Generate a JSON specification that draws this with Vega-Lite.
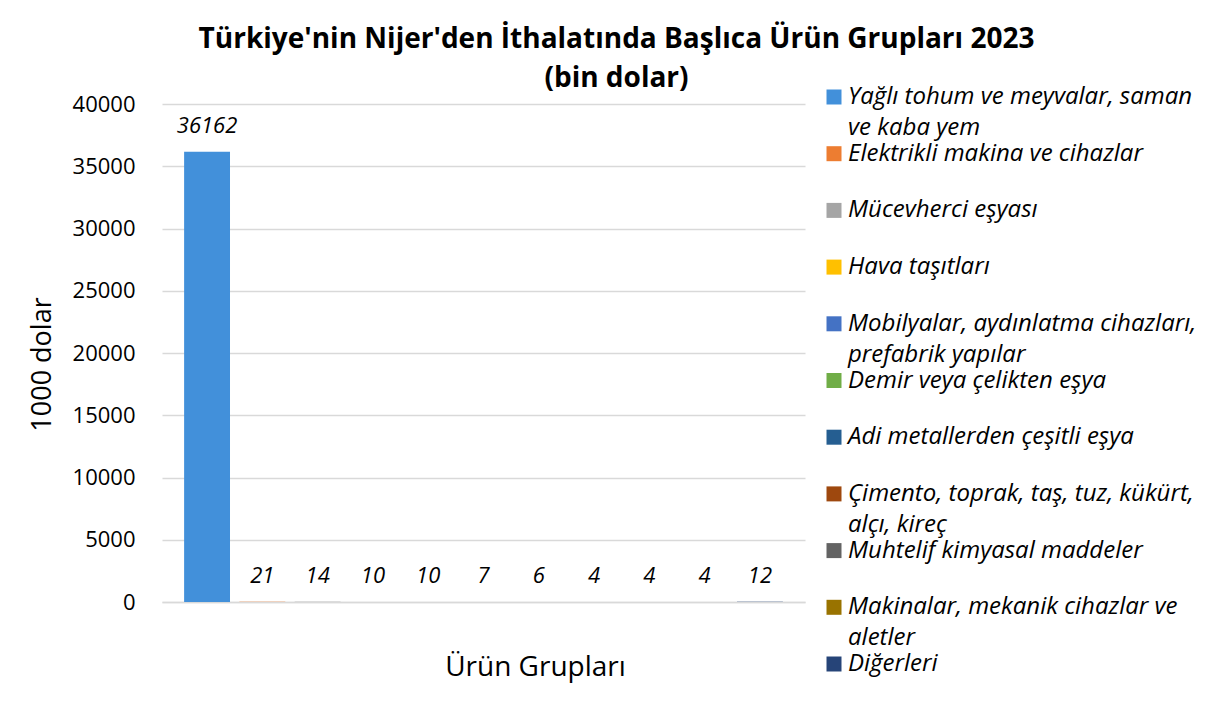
{
  "$schema": "https://vega.github.io/schema/vega-lite/v6.json",
  "width": 643,
  "height": 498,
  "padding": {"left": 28, "top": 26, "right": 5, "bottom": 5},
  "background": "#ffffff",
  "title": {
    "text": ["Türkiye'nin Nijer'den İthalatında Başlıca Ürün Grupları 2023", "(bin dolar)"],
    "font": "Open Sans",
    "fontSize": 28,
    "fontWeight": "bold",
    "color": "#000000",
    "lineHeight": 39,
    "anchor": "middle",
    "frame": "group",
    "dx": 133,
    "offset": -8
  },
  "data": {
    "values": [
      {"grup": "Yağlı tohum ve meyvalar, saman ve kaba yem", "deger": 36162},
      {"grup": "Elektrikli makina ve cihazlar", "deger": 21},
      {"grup": "Mücevherci eşyası", "deger": 14},
      {"grup": "Hava taşıtları", "deger": 10},
      {"grup": "Mobilyalar, aydınlatma cihazları, prefabrik yapılar", "deger": 10},
      {"grup": "Demir veya çelikten eşya", "deger": 7},
      {"grup": "Adi metallerden çeşitli eşya", "deger": 6},
      {"grup": "Çimento, toprak, taş, tuz, kükürt, alçı, kireç", "deger": 4},
      {"grup": "Muhtelif kimyasal maddeler", "deger": 4},
      {"grup": "Makinalar, mekanik cihazlar ve aletler", "deger": 4},
      {"grup": "Diğerleri", "deger": 12}
    ]
  },
  "encoding": {
    "x": {
      "field": "grup",
      "type": "nominal",
      "sort": null,
      "scale": {"paddingInner": 0.17, "paddingOuter": 0.4},
      "axis": {
        "title": "Ürün Grupları",
        "labels": false,
        "ticks": false,
        "domain": true,
        "domainColor": "#d9d9d9",
        "domainWidth": 1.5,
        "titleFont": "Open Sans",
        "titleFontSize": 28,
        "titleFontWeight": "normal",
        "titleColor": "#000000",
        "titleX": 373,
        "titleY": 65,
        "titleBaseline": "middle",
        "titleAlign": "center"
      }
    },
    "y": {
      "field": "deger",
      "type": "quantitative",
      "scale": {"domain": [0, 40000], "nice": false},
      "axis": {
        "title": "1000 dolar",
        "values": [0, 5000, 10000, 15000, 20000, 25000, 30000, 35000, 40000],
        "format": "d",
        "grid": true,
        "gridColor": "#d9d9d9",
        "gridWidth": 1.5,
        "domain": false,
        "ticks": false,
        "labelPadding": 27,
        "labelFont": "Open Sans",
        "labelFontSize": 22,
        "labelColor": "#000000",
        "titleFont": "Open Sans",
        "titleFontSize": 27,
        "titleFontWeight": "normal",
        "titleColor": "#000000",
        "titlePadding": 16,
        "titleY": 260
      }
    }
  },
  "layer": [
    {
      "mark": {"type": "bar", "strokeWidth": 0},
      "encoding": {
        "color": {
          "field": "grup",
          "type": "nominal",
          "scale": {
            "domain": [
              "Yağlı tohum ve meyvalar, saman ve kaba yem",
              "Elektrikli makina ve cihazlar",
              "Mücevherci eşyası",
              "Hava taşıtları",
              "Mobilyalar, aydınlatma cihazları, prefabrik yapılar",
              "Demir veya çelikten eşya",
              "Adi metallerden çeşitli eşya",
              "Çimento, toprak, taş, tuz, kükürt, alçı, kireç",
              "Muhtelif kimyasal maddeler",
              "Makinalar, mekanik cihazlar ve aletler",
              "Diğerleri"
            ],
            "range": ["#4290DA", "#ED7D31", "#A5A5A5", "#FFC000", "#4472C4", "#70AD47", "#255E91", "#9E480E", "#636363", "#997300", "#264478"]
          },
          "legend": {
            "title": null,
            "orient": "none",
            "legendX": 660,
            "legendY": -19,
            "padding": 0,
            "rowPadding": 1.7,
            "symbolType": "square",
            "symbolSize": 225,
            "symbolStrokeWidth": 0,
            "symbolOpacity": 1,
            "labelFont": "Open Sans",
            "labelFontSize": 24,
            "labelFontStyle": "italic",
            "labelColor": "#000000",
            "labelLimit": 400,
            "labelOffset": 2,
            "labelBaseline": "middle",
            "labelExpr": "datum.label == 'Yağlı tohum ve meyvalar, saman ve kaba yem' ? ['Yağlı tohum ve meyvalar, saman', 've kaba yem'] : datum.label == 'Mobilyalar, aydınlatma cihazları, prefabrik yapılar' ? ['Mobilyalar, aydınlatma cihazları,', 'prefabrik yapılar'] : datum.label == 'Çimento, toprak, taş, tuz, kükürt, alçı, kireç' ? ['Çimento, toprak, taş, tuz, kükürt,', 'alçı, kireç'] : datum.label == 'Makinalar, mekanik cihazlar ve aletler' ? ['Makinalar, mekanik cihazlar ve', 'aletler'] : [datum.label, ' ']"
          }
        }
      }
    },
    {
      "mark": {
        "type": "text",
        "font": "Open Sans",
        "fontSize": 22,
        "fontStyle": "italic",
        "color": "#000000",
        "baseline": "alphabetic",
        "align": "center",
        "dy": -19
      },
      "encoding": {
        "text": {"field": "deger", "type": "quantitative", "format": "d"}
      }
    }
  ],
  "config": {
    "font": "Open Sans",
    "view": {"stroke": null},
    "style": {"guide-label": {"lineHeight": 31}}
  }
}
